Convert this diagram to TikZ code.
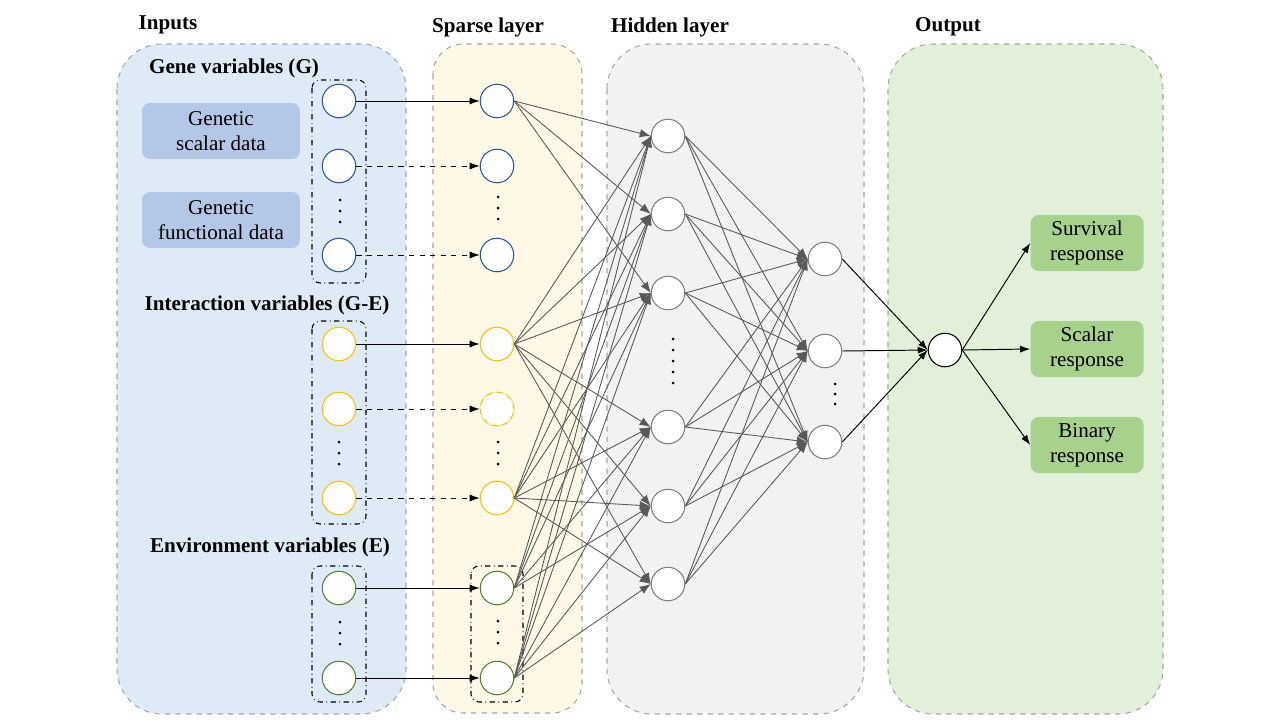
\documentclass[tikz,border=0pt]{standalone}
\usepackage{fontspec}
\setmainfont{Liberation Serif}
\usepackage{tikz}
\usetikzlibrary{arrows.meta,positioning}
\tikzset{>=latex}
\definecolor{inblue}{RGB}{222,235,247}
\definecolor{sparsecream}{RGB}{254,248,231}
\definecolor{hidgray}{RGB}{242,242,242}
\definecolor{outgreen}{RGB}{226,240,217}
\definecolor{genbox}{RGB}{180,199,231}
\definecolor{respbox}{RGB}{169,209,142}
\definecolor{nblue}{RGB}{47,85,151}
\definecolor{nyellow}{RGB}{255,192,0}
\definecolor{ngreen}{RGB}{84,130,53}
\definecolor{edgegray}{RGB}{89,89,89}
\tikzstyle{panel}=[draw=black!35,dashed,rounded corners=0.9cm,line width=0.6pt]
\tikzstyle{neuron}=[circle,draw,fill=white,minimum size=0.67cm,inner sep=0pt,line width=0.6pt]
\tikzstyle{group}=[draw,dash dot,rounded corners=0.16cm,line width=0.6pt]
\tikzstyle{databox}=[rounded corners=0.16cm,minimum width=3.16cm,minimum height=1.12cm,align=center,font=\fontsize{12}{14}\selectfont]
\tikzstyle{title}=[font=\fontsize{12}{14}\selectfont\bfseries]
\tikzstyle{feed}=[-{Latex[length=2mm,width=1.4mm]},line width=0.55pt]
\tikzstyle{weight}=[-{Latex[length=2.2mm,width=1.7mm]},edgegray,line width=0.5pt]

\begin{document}
\begin{tikzpicture}[x=0.02cm,y=-0.02cm]
\useasboundingbox (0,0) rectangle (1280,720);

% panels
\filldraw[panel,fill=inblue] (117,44) rectangle (406,714);
\filldraw[panel,fill=sparsecream,rounded corners=0.6cm] (433,44) rectangle (582,713);
\filldraw[panel,fill=hidgray] (607,44) rectangle (864,714);
\filldraw[panel,fill=outgreen] (888,44) rectangle (1163,714);

\node[title] (tin) at (168,25) {Inputs};
\node[title] (tsp) at (488,27) {Sparse layer};
\node[title] (thid) at (670,27) {Hidden layer};
\node[title] (tout) at (948,27) {Output};

\node[title] (lgene) at (234,68) {Gene variables (G)};
\node[title] (linter) at (267,305) {Interaction variables (G-E)};
\node[title] (lenv) at (270,547) {Environment variables (E)};

\node[databox,fill=genbox] (scalar) at (221,131) {Genetic\\scalar data};
\node[databox,fill=genbox] (func) at (221,220) {Genetic\\functional data};

% dash-dot groups
\draw[group] (312,80) rectangle (366,283);
\draw[group] (312,321) rectangle (366,524);
\draw[group] (312,566) rectangle (366,702);
\draw[group] (471,566) rectangle (523,702);

% input and sparse neurons
\foreach \n/\y/\c in {g1/101/nblue,g2/166/nblue,g3/255/nblue,x1/344/nyellow,x2/409/nyellow,x3/498/nyellow,e1/588/ngreen,e2/678/ngreen}{
  \node[neuron,draw=\c] (\n) at (339,\y) {};
  \node[neuron,draw=\c] (s\n) at (497,\y) {};
}
\node[neuron,draw=nyellow,dashed] (sx2) at (497,409) {};

\foreach \x/\y in {340/200,498/197,339/442,498/442,340/622,498/621}{
  \foreach \d in {0,11,22} \fill (\x,\y+\d) circle (1.5);
}

% hidden layers
\foreach \n/\y in {h1/136,h2/214,h3/293,h4/427,h5/506,h6/584}
  \node[neuron,draw=black!50] (\n) at (668,\y) {};
\foreach \n/\y in {k1/259,k2/351,k3/442}
  \node[neuron,draw=black!50] (\n) at (825,\y) {};
\foreach \d in {0,11,22,33,44} \fill (673,339+\d) circle (1.5);
\foreach \d in {0,10,20} \fill (835,384+\d) circle (1.5);

\node[neuron,draw=black] (out) at (945,350) {};

\node[databox,fill=respbox,minimum width=2.26cm] (surv) at (1087,243) {Survival\\response};
\node[databox,fill=respbox,minimum width=2.26cm] (scal) at (1087,349) {Scalar\\response};
\node[databox,fill=respbox,minimum width=2.26cm] (bin) at (1087,445) {Binary\\response};

% input -> sparse
\draw[feed] (g1.east) -- (sg1.west);
\draw[feed,dashed] (g2.east) -- (sg2.west);
\draw[feed,dashed] (g3.east) -- (sg3.west);
\draw[feed] (x1.east) -- (sx1.west);
\draw[feed,dashed] (x2.east) -- (sx2.west);
\draw[feed,dashed] (x3.east) -- (sx3.west);
\draw[feed] (e1.east) -- (se1.west);
\draw[feed] (e2.east) -- (se2.west);

% sparse -> hidden
\foreach \h in {h1,h2,h3} \draw[weight] (sg1.east) -- (\h.west);
\foreach \s in {sx1,sx3,se2}
  \foreach \h in {h1,h2,h3,h4,h5,h6} \draw[weight] (\s.east) -- (\h.west);
\foreach \h in {h1,h2,h3,h4,h5} \draw[weight] (se1.east) -- (\h.west);

% hidden -> hidden
\foreach \h in {h1,h2,h3,h4,h5,h6}
  \foreach \k in {k1,k2,k3} \draw[weight] (\h.east) -- (\k.west);

% hidden -> output
\foreach \k in {k1,k2,k3} \draw[feed] (\k.east) -- (out.west);
\foreach \r in {surv,scal,bin} \draw[feed] (out.east) -- (\r.west);

\end{tikzpicture}
\end{document}
